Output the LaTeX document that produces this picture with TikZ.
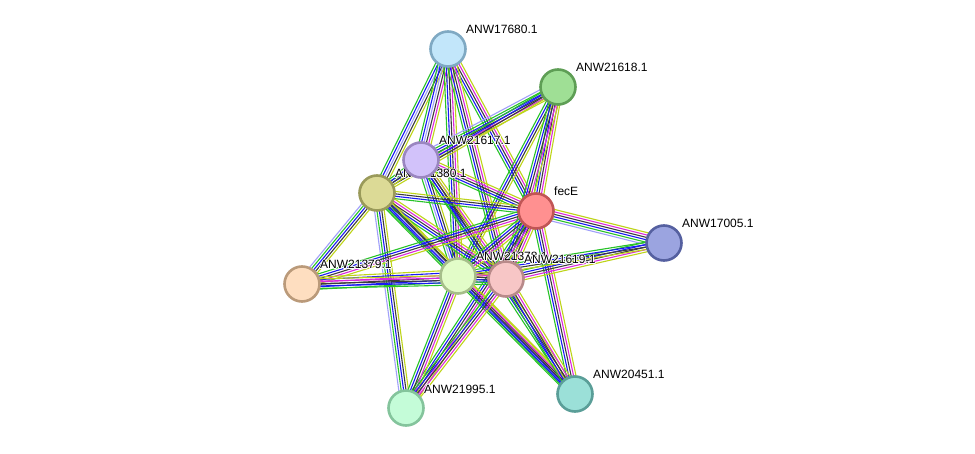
\documentclass[tikz,border=0pt]{standalone}
\usepackage{fontspec}
\setmainfont{Liberation Sans}
\usetikzlibrary{calc}
\definecolor{eg}{RGB}{40,195,40}
\definecolor{eb}{RGB}{25,25,245}
\definecolor{ek}{RGB}{60,60,60}
\definecolor{em}{RGB}{220,40,220}
\definecolor{ey}{RGB}{190,212,25}
\definecolor{el}{RGB}{160,160,250}
\definecolor{fG}{RGB}{254,222,192}\definecolor{dG}{RGB}{186,154,122}
\definecolor{fJ}{RGB}{196,252,216}\definecolor{dJ}{RGB}{132,196,156}
\definecolor{fK}{RGB}{155,224,216}\definecolor{dK}{RGB}{90,158,152}
\definecolor{fF}{RGB}{155,164,224}\definecolor{dF}{RGB}{85,96,160}
\definecolor{fA}{RGB}{194,230,250}\definecolor{dA}{RGB}{127,169,195}
\definecolor{fB}{RGB}{159,223,149}\definecolor{dB}{RGB}{94,158,85}
\definecolor{fD}{RGB}{220,218,150}\definecolor{dD}{RGB}{154,154,90}
\definecolor{fC}{RGB}{210,194,250}\definecolor{dC}{RGB}{154,134,192}
\definecolor{fE}{RGB}{255,144,144}\definecolor{dE}{RGB}{192,85,85}
\definecolor{fH}{RGB}{226,252,200}\definecolor{dH}{RGB}{166,190,138}
\definecolor{fI}{RGB}{247,198,198}\definecolor{dI}{RGB}{184,138,138}
\tikzset{
  edge/.style={line width=1.1pt},
  prot/.style={circle, minimum size=35pt, inner sep=0pt, line width=2.6pt},
  lab/.style={anchor=base west, inner sep=0pt, font=\fontsize{12}{14}\selectfont},
}
\newcommand\bund[4]{%
  \foreach \c [count=\i] in {#4}{%
    \pgfmathsetmacro\o{(\i-(#3+1)/2)*2.4}%
    \draw[edge,\c] ($(#1)!\o pt!90:(#2)$) -- ($(#2)!\o pt!-90:(#1)$);
  }}
\newcommand\prot[2]{% name, label
  \node[prot, fill=f#1, draw=d#1] (n#1) at (#1) {};
  \foreach \dx/\dy in {0.9/0,-0.9/0,0/0.9,0/-0.9,0.7/0.7,-0.7/0.7,0.7/-0.7,-0.7/-0.7}{%
    \node[lab, text=white] at ($(#1)+(18+\dx,-15+\dy)$) {#2};
  }
  \node[lab, text=black] (l#1) at ($(#1)+(18,-15)$) {#2};
}
\begin{document}
\begin{tikzpicture}[x=1pt,y=-1pt]
\useasboundingbox[fill=white] (0,0) rectangle (975,454);
\coordinate (A) at (448,49);
\coordinate (B) at (558,87);
\coordinate (C) at (421,160);
\coordinate (D) at (377,193);
\coordinate (E) at (536,211);
\coordinate (F) at (664,243);
\coordinate (G) at (302,284);
\coordinate (H) at (458,276);
\coordinate (I) at (506,279);
\coordinate (J) at (406,408);
\coordinate (K) at (575,394);
% edges
\bund{A}{D}{5}{eg,eb,el,ek,ey}
\bund{A}{C}{6}{eg,eb,el,ek,em,ey}
\bund{A}{E}{5}{eg,eb,ek,em,ey}
\bund{A}{H}{5}{eg,eb,ek,em,ey}
\bund{A}{I}{5}{eg,eb,ek,em,ey}
\bund{B}{C}{6}{el,eg,eb,ek,em,ey}
\bund{B}{D}{4}{eg,eb,ek,ey}
\bund{B}{E}{5}{eg,eb,ek,em,ey}
\bund{B}{H}{4}{eg,eb,ek,ey}
\bund{B}{I}{5}{eg,eb,ek,em,ey}
\bund{C}{D}{4}{eg,eb,ek,ey}
\bund{C}{E}{5}{eg,eb,ek,em,ey}
\bund{C}{H}{5}{eg,el,eb,ek,ey}
\bund{C}{I}{5}{eg,eb,ek,em,ey}
\bund{C}{K}{4}{eg,eb,ek,ey}
\bund{D}{E}{4}{eg,eb,ek,ey}
\bund{D}{G}{5}{el,eg,eb,ek,ey}
\bund{D}{H}{5}{eg,eb,el,ek,ey}
\bund{D}{I}{5}{eg,eb,ek,em,ey}
\bund{D}{J}{5}{el,eg,eb,ek,ey}
\bund{D}{K}{4}{eg,eb,ek,ey}
\bund{E}{F}{6}{el,eg,eb,ek,em,ey}
\bund{E}{G}{5}{eg,eb,ek,em,ey}
\bund{E}{H}{5}{eg,eb,ek,em,ey}
\bund{E}{I}{5}{eg,eb,ek,em,ey}
\bund{E}{J}{5}{eg,eb,ek,em,ey}
\bund{E}{K}{5}{eg,eb,ek,em,ey}
\bund{F}{I}{5}{eg,eb,ek,em,ey}
\bund{F}{H}{4}{eg,eb,ek,ey}
\bund{G}{H}{6}{eg,eb,ek,em,eb,ey}
\bund{G}{I}{5}{eg,eb,ek,em,ey}
\bund{H}{I}{5}{eg,eb,ek,em,ey}
\bund{H}{J}{5}{eg,eb,ek,em,ey}
\bund{H}{K}{5}{eg,eb,ek,em,ey}
\bund{I}{J}{5}{eg,eb,ek,em,ey}
\bund{I}{K}{5}{eg,eb,ek,em,ey}
% proteins
\prot{G}{ANW21379.1}
\prot{J}{ANW21995.1}
\prot{K}{ANW20451.1}
\prot{F}{ANW17005.1}
\prot{A}{ANW17680.1}
\prot{B}{ANW21618.1}
\prot{D}{ANW21380.1}
\prot{C}{ANW21617.1}
\prot{E}{fecE}
\prot{H}{ANW21378.1}
\prot{I}{ANW21619.1}
\end{tikzpicture}
\end{document}
